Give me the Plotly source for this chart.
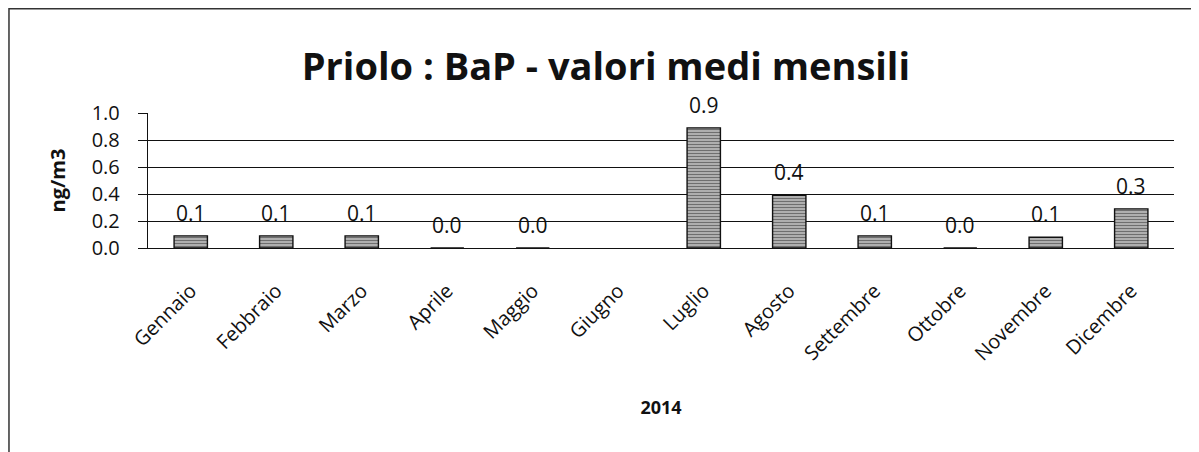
import plotly.graph_objects as go

months = ["Gennaio", "Febbraio", "Marzo", "Aprile", "Maggio", "Giugno",
          "Luglio", "Agosto", "Settembre", "Ottobre", "Novembre", "Dicembre"]
values = [0.09, 0.09, 0.09, 0.0, 0.0, None, 0.89, 0.39, 0.09, 0.0, 0.08, 0.29]
y_ticks = [0.0, 0.2, 0.4, 0.6, 0.8, 1.0]

fig = go.Figure()
fig.add_trace(go.Bar(
    x=months, y=values, width=0.39,
    marker=dict(color="#777", line=dict(color="#111", width=1.4),
                pattern=dict(shape="-", fgcolor="#1a1a1a", bgcolor="#c4c4c4", size=3, solidity=0.5)),
    hoverinfo="x+y",
))

for m, v in zip(months, values):
    if v is None:
        continue
    fig.add_annotation(x=m, y=v, text=f"{v:.1f}", showarrow=False, yshift=23,
                       font=dict(size=21, color="#111", family="Open Sans"))

fig.add_shape(type="rect", xref="paper", yref="paper", x0=-0.1355, x1=1.1, y0=-1.6, y1=1.772,
              line=dict(color="#333", width=1.5))

fig.update_layout(
    width=1191, height=444,
    margin=dict(l=140, r=25, t=105, b=204),
    paper_bgcolor="white", plot_bgcolor="white",
    title=dict(text="<b>Priolo : BaP - valori medi mensili</b>", x=0.502, xanchor="center",
               xref="container", y=0.868, yanchor="middle",
               font=dict(size=38, family="Open Sans", color="#111")),
    showlegend=False,
    font=dict(family="Open Sans", color="#111"),
)
fig.update_yaxes(range=[0, 1.0], tickvals=y_ticks, ticktext=[f"{t:.1f}" for t in y_ticks],
                 showgrid=True, gridcolor="#111", gridwidth=1.3,
                 ticks="outside", ticklen=9, tickcolor="#111", tickwidth=1.3,
                 ticklabelstandoff=14,
                 showline=True, linecolor="#111", linewidth=1.4,
                 tickfont=dict(size=20, family="Open Sans"),
                 title=dict(text="<b>ng/m3</b>", font=dict(size=20, family="Open Sans"), standoff=20),
                 zeroline=False)
fig.update_xaxes(tickangle=-45, tickfont=dict(size=20, family="Open Sans"),
                 ticklabelstandoff=22,
                 showline=True, linecolor="#111", linewidth=1.4, ticks="",
                 title=dict(text="<b>2014</b>", font=dict(size=18, family="Open Sans"), standoff=36))

fig.write_html("out.html")
